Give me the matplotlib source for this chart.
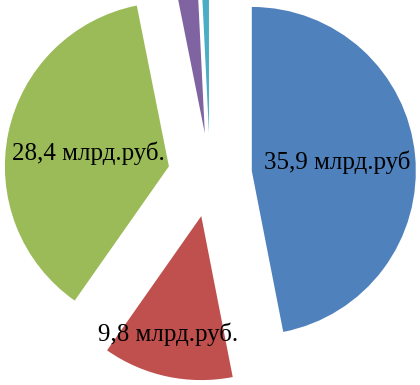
import numpy as np
import matplotlib
matplotlib.use("Agg")
import matplotlib.pyplot as plt

values = [35.9, 9.8, 28.4, 1.8, 0.6]
labels = ["35,9 млрд.руб", "9,8 млрд.руб.", "28,4 млрд.руб.", "", ""]
colors = ["#4F81BD", "#C0504D", "#9BBB59", "#8064A2", "#4BACC6"]
label_dist = [0.52, 0.747, 0.497, 0, 0]
label_ang_off = [0, -3.7, 2.5, 0, 0]

fig = plt.figure(figsize=(4.2, 3.85), dpi=100)
ax = fig.add_axes([0, 0, 1, 1])

R = 164
explode_px = 42
wedges, _ = ax.pie(values, colors=colors, startangle=90, counterclock=False,
                   explode=[explode_px] * len(values), center=(210, 210), radius=R,
                   wedgeprops=dict(linewidth=0))
ax.set_xlim(0, 420)
ax.set_ylim(0, 385)
ax.set_aspect("equal")
ax.axis("off")

for w, lab, d, off in zip(wedges, labels, label_dist, label_ang_off):
    if not lab:
        continue
    ang = np.deg2rad((w.theta1 + w.theta2) / 2 + off)
    cx, cy = w.center
    ax.text(cx + d * R * np.cos(ang), cy + d * R * np.sin(ang), lab,
            ha="center", va="center", fontsize=18,
            family=["Liberation Serif", "DejaVu Serif"], color="black")

fig.savefig("out.png", dpi=100)
